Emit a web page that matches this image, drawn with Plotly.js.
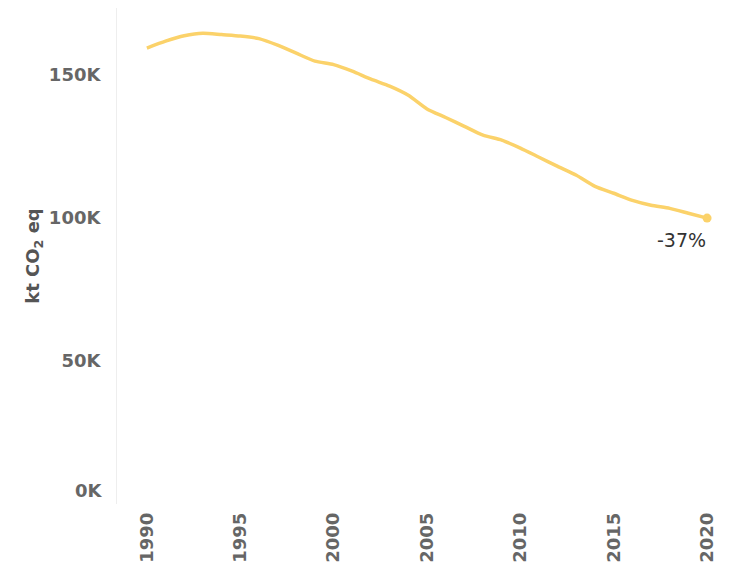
<!DOCTYPE html>
<html>
<head>
<meta charset="utf-8">
<script src="https://cdn.plot.ly/plotly-3.0.1.min.js"></script>
<style>
html,body{margin:0;padding:0;background:#fff;}
#chart{width:733px;height:574px;}
</style>
</head>
<body>
<div id="chart"></div>
<script>
const years = [1990,1991,1992,1993,1994,1995,1996,1997,1998,1999,2000,2001,2002,2003,2004,2005,2006,2007,2008,2009,2010,2011,2012,2013,2014,2015,2016,2017,2018,2019,2020];
const emissions = [159500,161900,163800,164700,164200,163700,162800,160500,157700,154900,153700,151400,148600,146200,143000,138200,135200,132100,129000,127300,124500,121300,118100,115000,111100,108700,106200,104500,103400,101700,100000];
const yTickVals = [50000,100000,150000];
const yTickText = ['50K','100K','150K'];
const xTickVals = [1990,1995,2000,2005,2010,2015,2020];
const endLabel = '-37%';
const zeroLabel = '0K';

const lastX = years[years.length-1];
const lastY = emissions[emissions.length-1];

const traces = [
  {x: years, y: emissions, type:'scatter', mode:'lines',
   line:{color:'#FBD26A', width:3.5, shape:'spline', smoothing:0.6}, hoverinfo:'skip'},
  {x:[lastX], y:[lastY], type:'scatter', mode:'markers',
   marker:{color:'#FBD26A', size:9}, hoverinfo:'skip'}
];

const layout = {
  width:733, height:574,
  margin:{l:117, r:8, t:8, b:70},
  paper_bgcolor:'#ffffff', plot_bgcolor:'#ffffff',
  showlegend:false,
  xaxis:{range:[1988.4,2020.96], tickvals:xTickVals, ticktext:xTickVals.map(String),
         tickangle:-90, showgrid:false, zeroline:false, showline:false, ticks:'',
         tickfont:{family:'DejaVu Sans', size:18, color:'#666666', weight:'bold'}, ticklabelstandoff:4},
  yaxis:{range:[0,173500], tickvals:yTickVals, ticktext:yTickText, showgrid:false, zeroline:false,
         showline:true, linecolor:'#eeeeee', linewidth:1, ticks:'',
         tickfont:{family:'DejaVu Sans', size:18, color:'#666666', weight:'bold'}, ticklabelstandoff:12,
         title:{text:'kt CO<sub>2</sub> eq', font:{family:'DejaVu Sans', size:18, color:'#555555', weight:'bold'}, standoff:4}},
  annotations:[
    {x:lastX, y:lastY, xref:'x', yref:'y', text:endLabel, showarrow:false,
     xanchor:'center', yanchor:'top', xshift:-26, yshift:-9,
     font:{family:'DejaVu Sans', size:19, color:'#333333'}},
    {x:0, y:0, xref:'paper', yref:'y', text:zeroLabel, showarrow:false,
     xanchor:'right', yanchor:'middle', xshift:-12, yshift:14,
     font:{family:'DejaVu Sans', size:18, color:'#666666', weight:'bold'}}
  ]
};

Plotly.newPlot('chart', traces, layout, {displayModeBar:false, staticPlot:true});
</script>
</body>
</html>
